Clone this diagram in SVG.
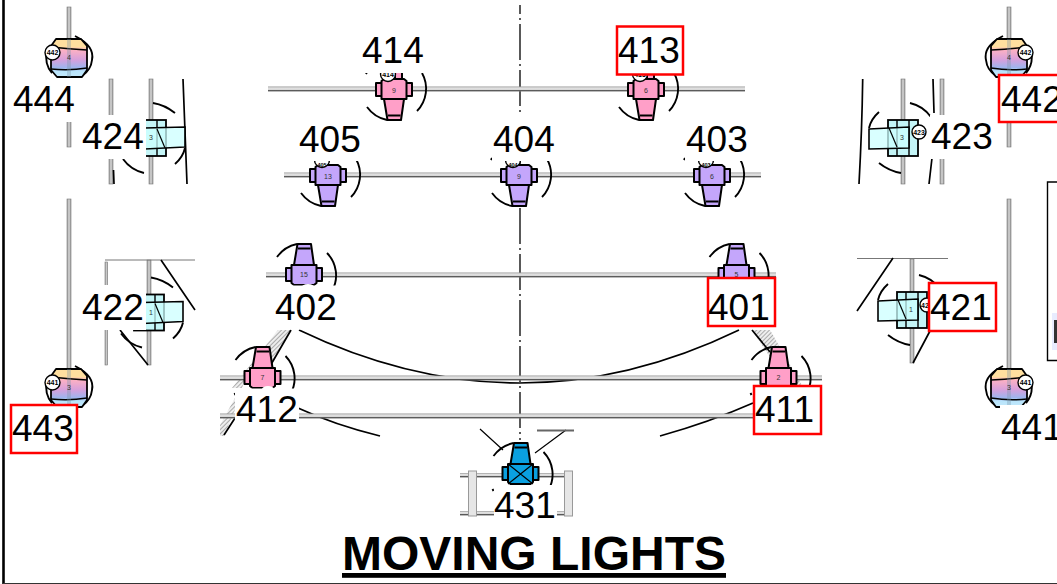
<svg xmlns="http://www.w3.org/2000/svg" width="1057" height="584" viewBox="0 0 1057 584">
<style>
text{font-family:"Liberation Sans",Arial,sans-serif;fill:#000}
.lbl{font-size:37px}
.num{font-size:7px;text-anchor:middle;fill:#333}
.cn{font-size:7px;font-weight:bold;text-anchor:middle}
.cs{font-size:5.5px;font-weight:bold;text-anchor:middle}
.ttl{font-size:48px;font-weight:bold;text-decoration:underline}
.bx{fill:#fff}
.red{fill:#fff;stroke:#f00;stroke-width:2.5}
.o{stroke:#000;stroke-width:2;stroke-linejoin:round}
.arc{fill:none;stroke:#000;stroke-width:1.9}
.thin{fill:none;stroke:#000;stroke-width:1.2}
.ln{fill:none;stroke:#000;stroke-width:1.7}
.barh{fill:url(#bh);stroke:none}
.barv{fill:url(#bv);stroke:#777;stroke-width:.6}
.pink{fill:#ff9fc8}.purple{fill:#c4a6fb}.blue{fill:#0aa0e0}
.pc{fill:#fff;stroke:#000;stroke-width:1.4}
</style>
<defs>
<linearGradient id="bh" x1="0" y1="0" x2="0" y2="1"><stop offset="0" stop-color="#999"/><stop offset=".3" stop-color="#e2e2e2"/><stop offset=".6" stop-color="#d8d8d8"/><stop offset=".75" stop-color="#555"/><stop offset="1" stop-color="#777"/></linearGradient>
<linearGradient id="bv" x1="0" y1="0" x2="1" y2="0"><stop offset="0" stop-color="#999"/><stop offset=".5" stop-color="#d4d4d4"/><stop offset="1" stop-color="#999"/></linearGradient>
<pattern id="hatch" width="3" height="3" patternUnits="userSpaceOnUse" patternTransform="rotate(45)"><rect width="3" height="3" fill="#eee"/><rect width="1" height="3" fill="#aaa"/></pattern>
<linearGradient id="grad" x1="0" y1="0" x2="0" y2="1">
<stop offset="0" stop-color="#ffdf9f"/><stop offset=".2" stop-color="#ffdf9f"/><stop offset=".3" stop-color="#fbb0c4"/><stop offset=".55" stop-color="#d6a0dc"/><stop offset=".75" stop-color="#9fb4ee"/><stop offset=".85" stop-color="#b9e4fb"/><stop offset="1" stop-color="#c2e8fb"/>
</linearGradient>
<g id="spot">
<path class="arc" d="M-27,18A33,33 0 0 0 -7,31M23,22A32,32 0 0 0 28,-16M-28,-15L-27,-17"/>
<rect class="o" x="-18" y="-6" width="6" height="13"/>
<rect class="o" x="12" y="-6" width="6" height="13"/>
<path class="o" d="M-10,10L-6.5,31H7L10,10Z"/>
<path class="o" d="M-6,26.5H6.500" fill="none"/>
<path class="o" d="M-10,-10H10L12.5,-8V10H-12.5V-8Z"/>
</g>
<g id="wash">
<path class="arc" d="M7,-35A36,36 0 0 1 28,-21M-24,-26Q-32,-19 -34,-10M-24,25Q-14,33 -2,35"/>
<rect x="-15" y="-18" width="30" height="36" fill="#c4f5f7" stroke="#000" stroke-width="1.8"/>
<path d="M-6,-18V18M6,-18V18" fill="none" stroke="#000" stroke-width="1.4"/>
<path d="M-34,-9L6,-11V10L-34,11Z" fill="#ccffff" fill-opacity=".75" stroke="#000" stroke-width="1.6"/>
<path class="thin" d="M-14,-10L-6,9" stroke-width="1"/>
</g>
<g id="prof">
<path class="arc" d="M6,-22Q26,-12 23,2Q22,12 13,18M-22,-8Q-25,6 -17,15"/>
<path d="M-13,-19H12L18,-12V12L13,19H-12L-18,12V-12Z" fill="url(#grad)" stroke="#000" stroke-width="1.8" stroke-linejoin="round"/>
<path d="M-18,-11Q0,-9 18,-8M-18,11Q0,13 18,10" fill="none" stroke="#000" stroke-width="1.5"/>
<rect x="-2" y="-19" width="4" height="38" fill="#7a94a8" fill-opacity=".35"/>
</g>
</defs>
<rect width="1057" height="584" fill="#fff"/>
<g id="frame">
<path d="M3.5,0V584" stroke="#000" stroke-width="2.6" fill="none"/>
<path d="M3,583.5H1057" stroke="#333" stroke-width="1" fill="none"/>
<path d="M1057,182H1047.5V360.5H1057" stroke="#000" stroke-width="1.4" fill="none"/>
<rect x="1052" y="313" width="5" height="37" fill="#e8ecff"/>
<rect x="1054" y="320" width="3" height="23" fill="#333"/>
</g>
<g id="connectors">
<path d="M520,5V440" fill="none" stroke="#000" stroke-width="1.3" stroke-dasharray="36 4 2 4" stroke-dashoffset="27"/>
<path d="M278,330H291L270,366H250L242,388H232ZM235,398L240,398L224,436H220V425Z" fill="url(#hatch)"/>
<path d="M291,330L262,380M235,418L224,435" class="ln"/>
<path d="M752,330H770L803,387H790Z" fill="url(#hatch)"/>
<path d="M752,330L770,352" class="ln"/>
<path d="M299,330Q520,436 739,330" class="ln"/>
<path d="M298,408Q335,425 380,436M753,403Q710,422 660,436" class="ln"/>
<rect class="barh" x="268" y="86.500" width="477" height="5"/>
<rect class="barh" x="284" y="172.500" width="477" height="5"/>
<rect class="barh" x="266" y="272.500" width="510" height="5"/>
<rect class="barh" x="220" y="375.500" width="602" height="5"/>
<rect class="barh" x="220" y="413.500" width="535" height="5"/>
<rect class="barv" x="67" y="7" width="4" height="140"/>
<rect class="barv" x="67" y="199" width="4" height="185"/>
<rect class="barv" x="1007" y="7" width="4" height="140"/>
<rect class="barv" x="1007" y="199" width="4" height="185"/>
<rect class="barv" x="109" y="79" width="4" height="105"/>
<rect class="barv" x="149" y="79" width="4" height="105"/>
<rect class="barv" x="901" y="79" width="4" height="105"/>
<rect class="barv" x="940" y="79" width="4" height="105"/>
<rect class="barv" x="147" y="260" width="4" height="105"/>
<rect class="barv" x="105" y="262" width="2.5" height="103"/>
<rect class="barv" x="910" y="259" width="4" height="104"/>
<path d="M105,260H195M857,258.500H948" fill="none" stroke="#777" stroke-width="1"/>
<path d="M161,260L195,310M120,330L148,365M893,258L857,311M930,331L913,363" class="ln"/>
<path d="M183,79L187,184M113.500,170L114,184M862.700,79Q862,130 859,184M933,79L934,113M932,158L929,184" class="ln"/>
<rect class="barh" x="460" y="473" width="113" height="4.500"/>
<rect class="barh" x="460" y="511" width="113" height="4.500"/>
<rect x="468.500" y="471" width="8" height="45" fill="#e6e6e6" stroke="#999"/>
<rect x="564.500" y="471" width="8" height="45" fill="#e6e6e6" stroke="#999"/>
<path d="M480,429L503,450M566,430L535,453" class="thin"/>
<path d="M537,430.500H574" stroke="#666" stroke-width="2" fill="none"/>
</g>
<g id="n414"><rect class="pink o" x="395" y="70" width="7" height="10"/><use href="#spot" class="pink" x="394" y="89"/><circle class="pc" cx="388" cy="74" r="7.500"/><text class="cn" x="388" y="76.500">414</text><text class="num" x="394" y="93">9</text><rect class="bx" x="361" y="26" width="66" height="47"/><text class="lbl" x="362" y="63">414</text></g>
<g id="n413"><rect class="pink o" x="647" y="70" width="7" height="10"/><use href="#spot" class="pink" x="646" y="89"/><circle class="pc" cx="640" cy="74" r="7.500"/><text class="cn" x="640" y="76.500">413</text><text class="num" x="646" y="93">6</text><rect class="red" x="617" y="26.500" width="66" height="48"/><text class="lbl" x="618" y="63">413</text></g>
<g id="n405"><use href="#spot" class="purple" x="328" y="175"/><circle class="pc" cx="322" cy="160" r="7.500"/><text class="cs" x="322" y="166.500">405</text><text class="num" x="328" y="179">13</text><rect class="bx" x="298" y="115" width="66" height="46"/><text class="lbl" x="299" y="152">405</text></g>
<g id="n404"><use href="#spot" class="purple" x="519" y="175"/><circle class="pc" cx="513" cy="160" r="7.500"/><text class="cs" x="513" y="166.500">404</text><text class="num" x="519" y="179">9</text><rect class="bx" x="492" y="115" width="66" height="46"/><text class="lbl" x="493" y="152">404</text></g>
<g id="n403"><use href="#spot" class="purple" x="712" y="175"/><circle class="pc" cx="706" cy="160" r="7.500"/><text class="cs" x="706" y="166.500">403</text><text class="num" x="712" y="179">6</text><rect class="bx" x="685" y="115" width="66" height="46"/><text class="lbl" x="686" y="152">403</text></g>
<g id="n402"><use href="#spot" class="purple" transform="translate(304,275) scale(1,-1)"/><ellipse cx="308" cy="288" rx="7" ry="4" fill="#fff"/><text class="num" x="304" y="277">15</text><rect class="bx" x="274" y="285.500" width="66" height="44"/><text class="lbl" x="275" y="320">402</text></g>
<g id="n401"><use href="#spot" class="purple" transform="translate(736.500,275) scale(1,-1)"/><text class="num" x="736.500" y="277">5</text><rect class="red" x="708" y="278" width="67" height="48"/><text class="lbl" x="708" y="320">401</text></g>
<g id="n412"><use href="#spot" class="pink" transform="translate(262.500,378) scale(1,-1)"/><text class="num" x="262.500" y="380">7</text><ellipse cx="268" cy="389" rx="6" ry="3" fill="#fff"/><rect class="bx" x="235" y="388.500" width="64" height="47"/><text class="lbl" x="236" y="422">412</text></g>
<g id="n411"><use href="#spot" class="pink" transform="translate(778.500,378) scale(1,-1)"/><text class="num" x="778.500" y="380">2</text><rect class="red" x="754" y="386" width="67" height="48"/><text class="lbl" x="755" y="422">411</text></g>
<g id="n431"><use href="#spot" class="blue" transform="translate(520.500,474) scale(1,-1)"/><path d="M508,464L533,484M533,464L508,484" stroke="#000" stroke-width="1.2"/><rect class="bx" x="494" y="485" width="63" height="44"/><text class="lbl" x="494" y="518">431</text></g>
<g id="n424"><use href="#wash" transform="translate(151,138) rotate(180)"/><text class="num" x="151" y="140">3</text><rect class="bx" x="82" y="115" width="64" height="44"/><text class="lbl" x="82" y="149">424</text></g>
<g id="n422"><use href="#wash" transform="translate(149,312.500) rotate(180)"/><text class="num" x="151" y="315">1</text><rect class="bx" x="82" y="285" width="64" height="45"/><text class="lbl" x="82" y="320">422</text></g>
<g id="n423"><use href="#wash" x="903" y="138"/><circle class="pc" cx="919" cy="132" r="7"/><text class="cn" x="919" y="134.500">423</text><text class="num" x="902" y="140">3</text><rect class="bx" x="930" y="115" width="64" height="44"/><text class="lbl" x="931" y="149">423</text></g>
<g id="n421"><use href="#wash" x="912" y="310"/><circle class="pc" cx="927" cy="305" r="7"/><text class="cn" x="925" y="307.500">42</text><text class="num" x="911" y="312">1</text><rect class="red" x="929" y="283" width="67" height="48"/><text class="lbl" x="930" y="320">421</text></g>
<g id="n444"><use href="#prof" x="69" y="58"/><circle class="pc" cx="52.500" cy="52.500" r="7.500"/><text class="cn" x="52.500" y="55">442</text><text class="num" x="69" y="60">4</text><rect class="bx" x="12" y="78" width="64" height="44"/><text class="lbl" x="13" y="112">444</text></g>
<g id="n443"><use href="#prof" x="69" y="388"/><circle class="pc" cx="52.500" cy="382.500" r="7.500"/><text class="cn" x="52.500" y="385">441</text><text class="num" x="69" y="390">3</text><rect class="red" x="11" y="405" width="66" height="48"/><text class="lbl" x="12" y="441">443</text></g>
<g id="n442"><use href="#prof" transform="translate(1009,58) scale(-1,1)"/><circle class="pc" cx="1025.500" cy="52.500" r="7.500"/><text class="cn" x="1025.500" y="55">442</text><text class="num" x="1009" y="60">4</text><rect class="red" x="999" y="75" width="70" height="47"/><text class="lbl" x="1001" y="112">442</text></g>
<g id="n441"><use href="#prof" transform="translate(1009,388) scale(-1,1)"/><circle class="pc" cx="1025.500" cy="382.500" r="7.500"/><text class="cn" x="1025.500" y="385">441</text><text class="num" x="1009" y="390">3</text><rect class="bx" x="1000" y="405" width="57" height="44"/><text class="lbl" x="1001" y="440">441</text></g>
<g id="title"><text class="ttl" x="342" y="570">MOVING LIGHTS</text></g>
</svg>
